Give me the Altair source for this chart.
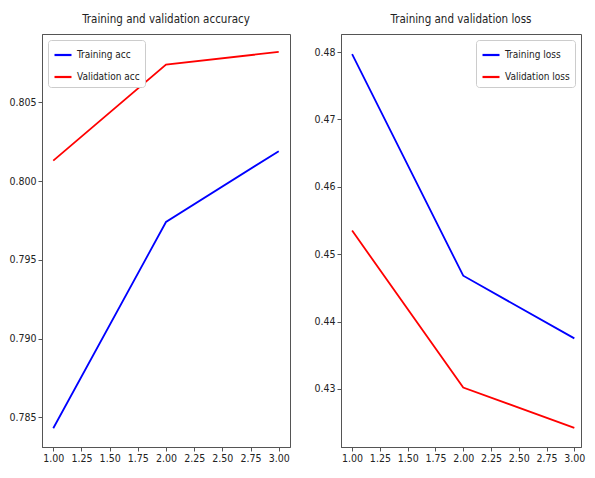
import altair as alt
import pandas as pd

epochs = [1, 2, 3]
train_acc = [0.7843, 0.7974, 0.8019]
val_acc = [0.8013, 0.8074, 0.8082]
train_loss = [0.4797, 0.4468, 0.4375]
val_loss = [0.4535, 0.4302, 0.4242]

acc_names = ["Training acc", "Validation acc"]
loss_names = ["Training loss", "Validation loss"]
x_ticks = [1.0, 1.25, 1.5, 1.75, 2.0, 2.25, 2.5, 2.75, 3.0]
acc_ticks = [0.785, 0.790, 0.795, 0.800, 0.805]
loss_ticks = [0.43, 0.44, 0.45, 0.46, 0.47, 0.48]

FONT = "DejaVu Sans Condensed, Liberation Sans, sans-serif"


def long_df(names, a, b):
    rows = []
    for e, v in zip(epochs, a):
        rows.append({"epoch": e, "value": v, "series": names[0]})
    for e, v in zip(epochs, b):
        rows.append({"epoch": e, "value": v, "series": names[1]})
    return pd.DataFrame(rows)


def panel(df, names, title, xdom, ydom, yticks, yfmt, width, legend_orient):
    return (
        alt.Chart(df, title=alt.Title(title, fontSize=11.5, font=FONT, fontWeight="normal",
                                      color="#222", offset=9))
        .mark_line(strokeWidth=1.8)
        .encode(
            x=alt.X("epoch:Q", scale=alt.Scale(domain=xdom, nice=False, zero=False),
                    axis=alt.Axis(values=x_ticks, format=".2f", title=None)),
            y=alt.Y("value:Q", scale=alt.Scale(domain=ydom, nice=False, zero=False),
                    axis=alt.Axis(values=yticks, format=yfmt, title=None)),
            color=alt.Color("series:N",
                            scale=alt.Scale(domain=names, range=["#0000ff", "#ff0000"]),
                            legend=alt.Legend(title=None, orient=legend_orient, offset=6,
                                              symbolType="stroke", symbolSize=289,
                                              symbolStrokeWidth=2.2, labelFontSize=10,
                                              labelFont=FONT, labelColor="#222",
                                              padding=5, rowPadding=7,
                                              strokeColor="#cccccc", fillColor="white",
                                              cornerRadius=3)),
        )
        .properties(width=width, height=413)
    )


acc = panel(long_df(acc_names, train_acc, val_acc), acc_names,
            "Training and validation accuracy", [0.9, 3.1], [0.78311, 0.80934],
            acc_ticks, ".3f", 248, "top-left")
loss = panel(long_df(loss_names, train_loss, val_loss), loss_names,
             "Training and validation loss", [0.9, 3.06], [0.42137, 0.48269],
             loss_ticks, ".2f", 240, "top-right")

chart = (
    alt.hconcat(acc, loss, spacing=22)
    .resolve_scale(color="independent")
    .properties(padding={"left": 0, "top": 5, "right": 0, "bottom": 0})
    .configure_view(stroke="#555555", strokeWidth=1)
    .configure_axis(domainColor="#555555", tickColor="#555555", tickSize=4,
                    labelPadding=2, labelFont=FONT, labelFontSize=10.5,
                    labelColor="#222", grid=False)
)

chart.save("out.html", embed_options={"renderer": "svg", "actions": False})
